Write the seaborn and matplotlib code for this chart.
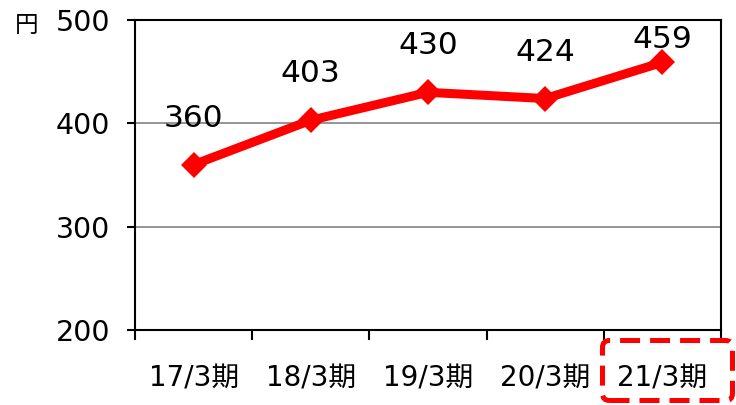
import matplotlib
matplotlib.use("Agg")
import matplotlib.pyplot as plt
from matplotlib.patches import FancyBboxPatch
import pandas as pd
import seaborn as sns

# chart data
periods = ["17/3期", "18/3期", "19/3期", "20/3期", "21/3期"]
values = [360, 403, 430, 424, 459]
y_ticks = [200, 300, 400, 500]
unit_label = "円"

sns.set_style("white")
plt.rcParams["font.family"] = ["DejaVu Sans", "Noto Sans CJK JP"]
plt.rcParams["text.color"] = "black"
plt.rcParams["xtick.color"] = "black"
plt.rcParams["ytick.color"] = "black"

df = pd.DataFrame({"pos": range(len(periods)), "value": values})

fig = plt.figure(figsize=(7.36, 4.05), dpi=100)
ax = fig.add_axes([135 / 736, 75 / 405, 586 / 736, 310 / 405])

sns.lineplot(data=df, x="pos", y="value", ax=ax, color="#ff0000",
             linewidth=6.5, marker="D", markersize=13, markeredgewidth=0,
             zorder=3)

# data labels above the points (kept inside the plot area)
for x, v in zip(df["pos"], df["value"]):
    ax.text(x, min(v + 45, 481), str(v), ha="center", va="center",
            fontsize=22.5, color="black")

ax.set_xlim(-0.5, len(periods) - 0.5)
ax.set_ylim(y_ticks[0], y_ticks[-1])
ax.set_yticks(y_ticks)
ax.set_xticks(range(len(periods)))
ax.set_xticklabels(periods)
ax.set_xticks([i - 0.5 for i in range(len(periods) + 1)], minor=True)
ax.set_xlabel("")
ax.set_ylabel("")

ax.tick_params(axis="x", which="major", length=0, pad=25, labelsize=20)
ax.tick_params(axis="x", which="minor", direction="out", length=7,
               width=1.5, color="black", bottom=True)
ax.tick_params(axis="y", direction="out", length=6, width=1.5,
               color="black", pad=12, labelsize=20.5, left=True)

for y in y_ticks[1:-1]:
    ax.axhline(y, color="#8c8c8c", linewidth=1.3, zorder=1)

for spine in ax.spines.values():
    spine.set_visible(True)
    spine.set_color("black")
    spine.set_linewidth(1.5)

# dashed highlight box round the latest period (figure inches)
box = FancyBboxPatch((6.025, 0.045), 1.30, 0.60,
                     boxstyle="round,pad=0,rounding_size=0.07",
                     transform=fig.dpi_scale_trans, fc="none", ec="#ff0000",
                     lw=3.6, ls=(0, (4, 2)), clip_on=False)
fig.patches.append(box)

fig.text(15 / 736, 1 - 25 / 405, unit_label, ha="left", va="center",
         fontsize=17, family=["Noto Sans CJK JP"])

fig.savefig("out.png", dpi=100)
